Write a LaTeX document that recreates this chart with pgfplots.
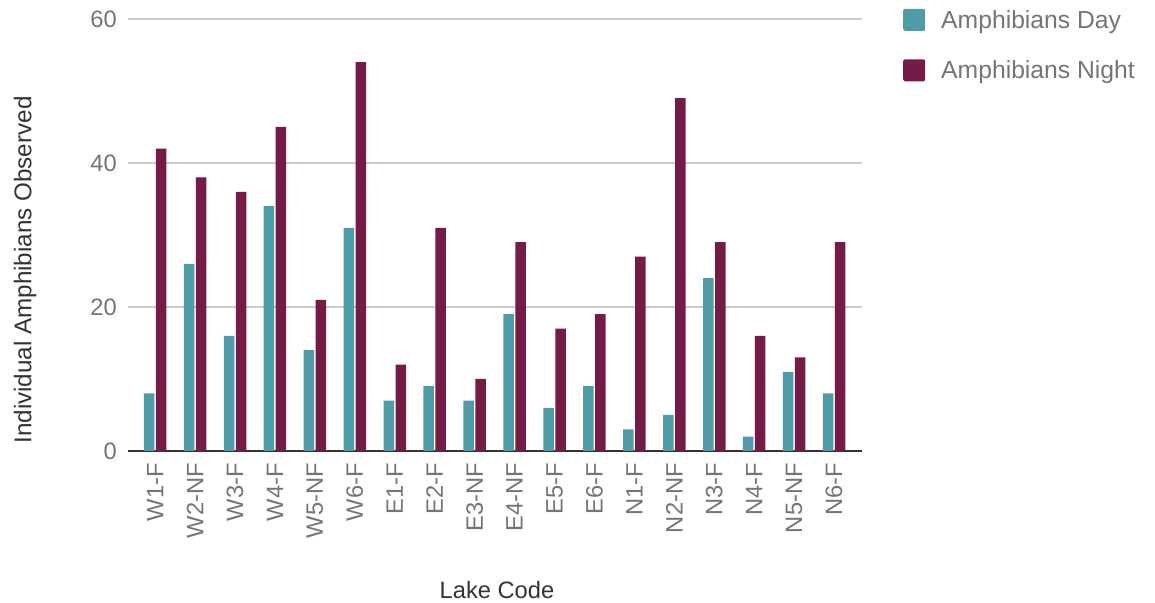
\documentclass[border=0pt]{standalone}
\usepackage{fontspec}
\setmainfont{Liberation Sans}
\usepackage{pgfplots}
\pgfplotsset{compat=1.18}
\definecolor{dayc}{HTML}{4F9BA7}
\definecolor{nightc}{HTML}{741B47}
\definecolor{tickgray}{HTML}{757575}
\definecolor{titlegray}{HTML}{333333}
\begin{document}
\begin{tikzpicture}[x=1bp,y=1bp]
\useasboundingbox (0,0) rectangle (1155,603);
\begin{axis}[
  at={(128bp,152bp)}, anchor=south west,
  scale only axis, width=734bp, height=432bp,
  ymin=0, ymax=60, ytick={20,40,60},
  extra y ticks={0},
  extra y tick style={grid style={draw=titlegray, line width=1.6bp}},
  xmin=-0.68, xmax=17.7,
  xtick={0,...,17},
  xticklabels={W1-F,W2-NF,W3-F,W4-F,W5-NF,W6-F,E1-F,E2-F,E3-NF,E4-NF,E5-F,E6-F,N1-F,N2-NF,N3-F,N4-F,N5-NF,N6-F},
  axis line style={draw=none},
  major tick length=0pt, tick style={draw=none},
  ymajorgrids, grid style={draw=black!20, line width=1.2bp},
  /pgf/number format/assume math mode=true,
  x tick label style={rotate=90, anchor=east, inner sep=0pt, font=\fontsize{23.8}{26}\selectfont, text=tickgray},
  y tick label style={inner sep=0pt, font=\fontsize{23.8}{26}\selectfont, text=tickgray},
  xticklabel shift=12bp, yticklabel shift=11bp,
  ybar=1.5bp, bar width=10.5bp,
  xlabel={Lake Code}, ylabel={Individual Amphibians Observed},
  every axis x label/.style={at={(axis description cs:0.5027,-0.3218)}, anchor=center, font=\fontsize{23.8}{26}\selectfont, text=titlegray},
  every axis y label/.style={at={(axis description cs:-0.1403,0.419)}, anchor=center, rotate=90, font=\fontsize{24.3}{26}\selectfont, text=titlegray},
  legend style={at={(axis description cs:1.0559,1.0255)}, anchor=north west, draw=none, fill=none, inner sep=0pt, font=\fontsize{24.8}{27}\selectfont, text=tickgray, row sep=27bp, /tikz/every odd column/.append style={column sep=14bp}},
  legend cell align=left,
  legend image code/.code={\fill[#1, draw=none, rounded corners=2bp] (0bp,-11bp) rectangle (22bp,11bp);},
]
\addplot[fill=dayc, draw=none] coordinates {(0,8) (1,26) (2,16) (3,34) (4,14) (5,31) (6,7) (7,9) (8,7) (9,19) (10,6) (11,9) (12,3) (13,5) (14,24) (15,2) (16,11) (17,8)};
\addplot[fill=nightc, draw=none] coordinates {(0,42) (1,38) (2,36) (3,45) (4,21) (5,54) (6,12) (7,31) (8,10) (9,29) (10,17) (11,19) (12,27) (13,49) (14,29) (15,16) (16,13) (17,29)};
\legend{Amphibians Day, Amphibians Night}
\end{axis}
\end{tikzpicture}
\end{document}
